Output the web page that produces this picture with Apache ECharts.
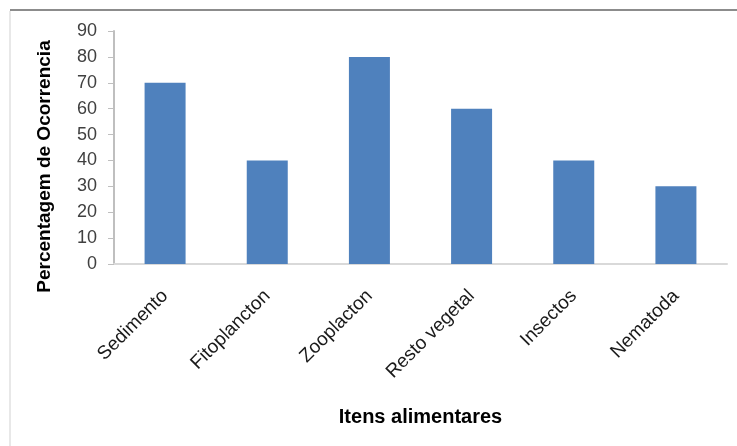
<!DOCTYPE html>
<html>
<head>
<meta charset="utf-8">
<script src="https://cdn.jsdelivr.net/npm/echarts@6/dist/echarts.min.js"></script>
<style>html,body{margin:0;padding:0;background:#fff;}#c{width:737px;height:446px;}</style>
</head>
<body>
<div id="c"></div>
<script>
var categories = ['Sedimento', 'Fitoplancton', 'Zooplacton', 'Resto vegetal', 'Insectos', 'Nematoda'];
var values = [70, 40, 80, 60, 40, 30];
var yTicks = [0, 10, 20, 30, 40, 50, 60, 70, 80, 90];

var chart = echarts.init(document.getElementById('c'));
chart.setOption({
  animation: false,
  backgroundColor: '#ffffff',
  graphic: [
    { type: 'line', shape: { x1: 10, y1: 10, x2: 737, y2: 10 }, style: { stroke: '#8c8c8c', lineWidth: 2 } },
    { type: 'line', shape: { x1: 10, y1: 11, x2: 10, y2: 446 }, style: { stroke: '#e0e0e0', lineWidth: 1.5 } }
  ],
  grid: { left: 114, right: 10, top: 31, bottom: 182, containLabel: false },
  xAxis: {
    type: 'category',
    data: categories,
    name: 'Itens alimentares',
    nameLocation: 'middle',
    nameGap: 143,
    nameTextStyle: { fontFamily: 'Liberation Sans', fontSize: 20, fontWeight: 'bold', color: '#000' },
    axisLine: { lineStyle: { color: '#d9d9d9', width: 2 } },
    axisTick: { show: false },
    axisLabel: { rotate: 45, margin: 29, fontFamily: 'Liberation Sans', fontSize: 19, color: '#1a1a1a', interval: 0 }
  },
  yAxis: {
    type: 'value',
    min: 0, max: 90, interval: 10,
    name: 'Percentagem de Ocorrencia',
    nameLocation: 'middle',
    nameGap: 60,
    nameTextStyle: { fontFamily: 'Liberation Sans', fontSize: 19, fontWeight: 'bold', color: '#000', padding: [0, 38, 0, 0] },
    axisLine: { show: true, lineStyle: { color: '#bfbfbf', width: 2 } },
    axisTick: { show: true, inside: false, length: 6, lineStyle: { color: '#bfbfbf' } },
    splitLine: { show: false },
    axisLabel: {
      margin: 17, fontFamily: 'Liberation Sans', fontSize: 18, color: '#404040',
      formatter: function (v) { return yTicks.indexOf(v) >= 0 ? String(v) : ''; }
    }
  },
  series: [{
    type: 'bar',
    data: values,
    barWidth: 41,
    itemStyle: { color: '#4f81bd' }
  }]
});
</script>
</body>
</html>
